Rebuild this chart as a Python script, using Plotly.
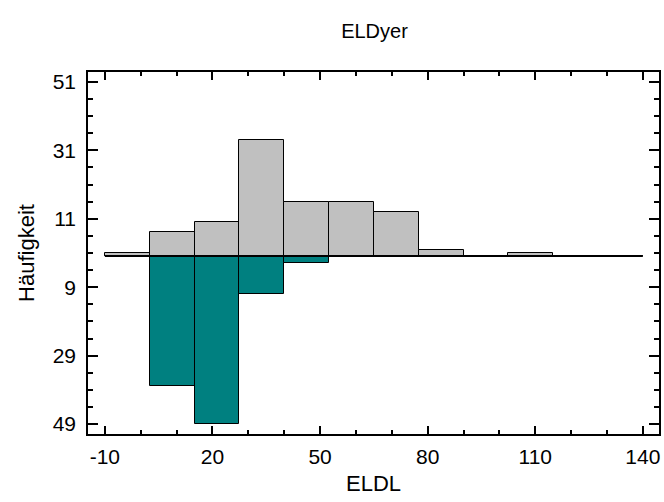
import plotly.graph_objects as go

# Data
bin_edges = [-10, 2.5, 15, 27.5, 40, 52.5, 65, 77.5, 90, 102.5, 115, 127.5, 140]
upper_counts = [1, 7, 10, 34, 16, 16, 13, 2, 0, 1, 0, 0]
lower_counts = [0, 38, 49, 11, 2, 0, 0, 0, 0, 0, 0, 0]
y_tickvals = [51, 31, 11, -9, -29, -49]
y_ticktext = ["51", "31", "11", "9", "29", "49"]
x_tickvals = [-10, 20, 50, 80, 110, 140]

centers = [(bin_edges[i] + bin_edges[i + 1]) / 2 for i in range(len(bin_edges) - 1)]
widths = [bin_edges[i + 1] - bin_edges[i] for i in range(len(bin_edges) - 1)]

FONT = "Liberation Sans, Arial, Helvetica, sans-serif"

fig = go.Figure()
fig.add_trace(go.Bar(
    x=centers, y=upper_counts, width=widths,
    marker=dict(color="#C0C0C0", line=dict(color="black", width=1)),
    showlegend=False, hoverinfo="skip"))
fig.add_trace(go.Bar(
    x=centers, y=[-v for v in lower_counts], width=widths,
    marker=dict(color="#008080", line=dict(color="black", width=1)),
    showlegend=False, hoverinfo="skip"))
fig.add_trace(go.Scatter(
    x=[bin_edges[0], bin_edges[-1]], y=[0, 0], mode="lines",
    line=dict(color="black", width=1.2), showlegend=False, hoverinfo="skip"))

fig.update_layout(
    width=664, height=502,
    margin=dict(l=88, r=3, t=72, b=68),
    paper_bgcolor="white", plot_bgcolor="white",
    barmode="overlay", bargap=0,
    font=dict(family=FONT, size=21, color="black"),
    title=dict(text="ELDyer", x=(88 + 661) / 2 / 664, xanchor="center",
               y=1 - 31 / 502, yanchor="middle",
               font=dict(family=FONT, size=20, color="black")),
)
fig.update_xaxes(
    range=[-14.7, 144.5],
    tickvals=x_tickvals, ticktext=[str(v) for v in x_tickvals],
    ticks="inside", ticklen=8, tickwidth=1.5, tickcolor="black",
    minor=dict(dtick=10, tick0=-10, ticks="inside", ticklen=4, tickwidth=1.5, tickcolor="black"),
    showline=True, linecolor="black", linewidth=1.5, mirror="allticks",
    showgrid=False, zeroline=False,
    title=dict(text="ELDL", standoff=9, font=dict(size=22)),
    tickfont=dict(size=21), ticklabelstandoff=3,
)
fig.update_yaxes(
    range=[-51.9, 53.9],
    tickvals=y_tickvals, ticktext=y_ticktext,
    ticks="inside", ticklen=10, tickwidth=1.5, tickcolor="black",
    minor=dict(dtick=5, tick0=1, ticks="inside", ticklen=5, tickwidth=1.5, tickcolor="black"),
    showline=True, linecolor="black", linewidth=1.5, mirror="allticks",
    showgrid=False, zeroline=False,
    title=dict(text="Häufigkeit", standoff=12, font=dict(size=22)),
    tickfont=dict(size=21), ticklabelstandoff=6,
)

fig.write_html("out.html")
